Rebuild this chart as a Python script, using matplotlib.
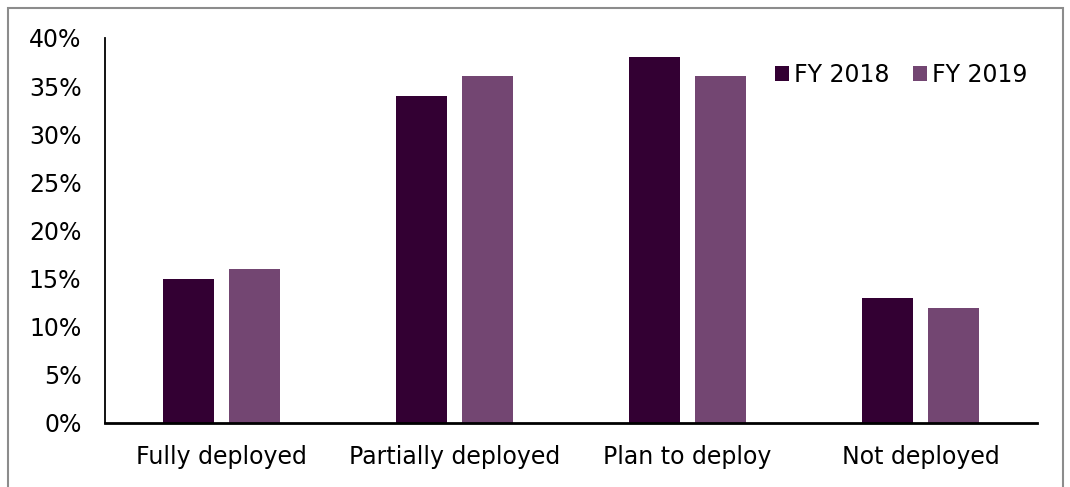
import matplotlib.pyplot as plt
import numpy as np
from matplotlib.patches import Rectangle

categories = ["Fully deployed", "Partially deployed", "Plan to deploy", "Not deployed"]
fy2018 = [15, 34, 38, 13]
fy2019 = [16, 36, 36, 12]
series_names = ["FY 2018", "FY 2019"]
colors = ["#330033", "#734672"]

W, H = 1070, 487
fig = plt.figure(figsize=(W / 100, H / 100), dpi=100)

# grey frame around the chart area (runs off the bottom edge)
fig.patches.append(
    Rectangle((8 / W, -0.05), (1063 - 8) / W, 1.05 - 8 / H,
              transform=fig.transFigure, fill=False,
              edgecolor="#8c8c8c", linewidth=1.5)
)

ax = fig.add_axes([105 / W, (H - 423) / H, (1037 - 105) / W, (423 - 38) / H])

x = np.arange(len(categories))
bw = 0.223
off = 0.1416
ax.bar(x - off, fy2018, bw, color=colors[0], label=series_names[0])
ax.bar(x + off, fy2019, bw, color=colors[1], label=series_names[1])

ax.set_xlim(-0.5, len(categories) - 0.5)
ax.set_ylim(0, 40)
ax.set_yticks(range(0, 41, 5))
ax.set_yticklabels([f"{v}%" for v in range(0, 41, 5)])
ax.set_xticks(x)
ax.set_xticklabels(categories)

for s in ["top", "right"]:
    ax.spines[s].set_visible(False)
ax.spines["left"].set_linewidth(1.3)
ax.spines["bottom"].set_linewidth(2)
ax.tick_params(axis="both", length=0, labelsize=17, colors="black")
ax.tick_params(axis="y", pad=17)
ax.tick_params(axis="x", pad=16)

ax.legend(loc="upper right", bbox_to_anchor=(1.0, 0.96), frameon=False,
          ncol=2, fontsize=17, handlelength=0.6, handleheight=0.6,
          handletextpad=0.2, columnspacing=1.0, borderaxespad=0)

fig.savefig("out.png", dpi=100)
